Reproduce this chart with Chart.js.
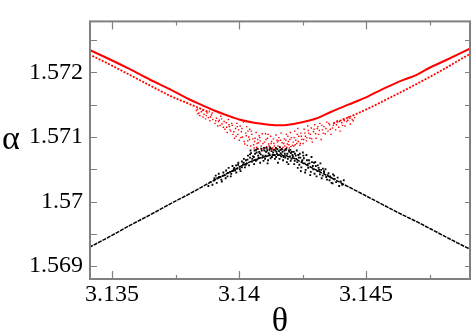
<!DOCTYPE html>
<html>
<head>
<meta charset="utf-8">
<script src="https://cdn.jsdelivr.net/npm/chart.js@4/dist/chart.umd.min.js"></script>
<style>
html,body{margin:0;padding:0;background:#fff;}
#wrap{width:474px;height:334px;}
</style>
</head>
<body>
<div id="wrap"><canvas id="c" width="474" height="334"></canvas></div>
<script>
// ---- axis ticks ----
const xMajorTicks = [3.135, 3.14, 3.145];
const xTickLabels = ["3.135", "3.14", "3.145"];
const xMinorTicks = [3.1375, 3.1425, 3.1475];
const yMajorTicks = [1.569, 1.57, 1.571, 1.572];
const yTickLabels = ["1.569", "1.57", "1.571", "1.572"];
const yMinorTicks = [1.5695, 1.5705, 1.5715, 1.5725];
const xTitle = "θ";
const yTitle = "α";

// ---- red upper curve (solid) ----
const redCurveX = [3.1341,3.13492,3.1357,3.13648,3.13727,3.13766,3.13805,3.13856,3.13902,3.13949,3.14,3.14059,3.14117,3.14168,3.14215,3.14273,3.14313,3.14363,3.1443,3.14508,3.14559,3.14625,3.14703,3.14754,3.1482,3.1491];
const redCurveY = [1.57235,1.5722,1.57205,1.57189,1.57174,1.57166,1.57158,1.57149,1.57141,1.57134,1.57127,1.57122,1.57119,1.57118,1.5712,1.57125,1.5713,1.57139,1.5715,1.57163,1.57173,1.57185,1.57197,1.57208,1.5722,1.57237];

// ---- red scattered band, arms ----
const redLeftArmX = [3.1341,3.13492,3.1357,3.13648,3.13727,3.13805,3.13883];
const redLeftArmY = [1.57228,1.57212,1.57196,1.5718,1.57164,1.57151,1.57138];
const redRightArmX = [3.1437,3.1441,3.14508,3.14605,3.14703,3.14801,3.1491];
const redRightArmY = [1.57121,1.57127,1.57144,1.57163,1.57183,1.57204,1.57229];

// ---- red cloud near the crossing ----
const redCloudX = [
3.13832,3.13838,3.13845,3.13851,3.13858,3.13836,3.13862,
3.13868,3.13874,3.13879,3.13885,3.13891,3.13897,3.13883,
3.13905,3.13911,3.13916,3.13922,3.13928,3.13933,3.13938,3.13919,
3.13944,3.13949,3.13953,3.13958,3.13962,3.13967,3.13971,3.13976,3.1396,
3.13982,3.13986,3.13991,3.13995,3.14001,3.14004,3.14009,3.14013,3.14017,3.13998,
3.14022,3.14026,3.1403,3.14034,3.14038,3.14042,3.14046,3.1405,3.14054,3.14035,
3.14059,3.14063,3.14067,3.14071,3.14075,3.14079,3.14083,3.14087,3.14091,3.14073,
3.14096,3.141,3.14104,3.14108,3.14112,3.14116,3.1412,3.14124,3.14128,3.14132,3.14114,
3.14137,3.14141,3.14145,3.14149,3.14153,3.14157,3.14161,3.14165,3.14169,3.14173,3.14155,
3.14178,3.14182,3.14186,3.1419,3.14194,3.14198,3.14202,3.14206,3.1421,3.14192,
3.14215,3.14219,3.14223,3.14227,3.14231,3.14235,3.14239,3.14243,3.14247,
3.14252,3.14256,3.14261,3.14265,3.1427,3.14274,3.14279,3.14284,3.14288,
3.14293,3.14298,3.14303,3.14308,3.14313,3.14318,3.14323,3.14328,
3.14334,3.14339,3.14345,3.1435,3.14356,3.14362,3.14368,
3.14374,3.1438,3.14386,3.14392,3.14398,3.14404,
3.1441,3.14417,3.14424,3.14431,3.14438,3.14445,
3.13842,3.13856,3.13871,3.13887,3.13894,3.13908,3.13925,3.13931,3.13941,3.13951,
3.13964,3.13973,3.13979,3.13988,3.13993,3.14007,3.14011,3.1402,3.14028,3.14032,
3.14041,3.14048,3.14057,3.14061,3.14069,3.14076,3.14081,3.14089,3.14094,3.14102,
3.14106,3.14111,3.14118,3.14126,3.1413,3.14135,3.14139,3.14147,3.14151,3.14159,
3.14163,3.14167,3.14176,3.1418,3.14184,3.14188,3.14196,3.142,3.14204,3.14213,
3.14217,3.14221,3.14229,3.14233,3.14241,3.14245,3.14254,3.14259,3.14267,3.14272,
3.14281,3.14286,3.14295,3.14301,3.1431,3.14316,3.14326,3.14331,3.14342,3.14353,
3.14359,3.14371,3.14383,3.14395,3.14407,3.14414,3.14428,3.14436,3.14449,3.14455];
const redCloudY = [
1.57141,1.57136,1.57133,1.57139,1.57131,1.57143,1.57135,
1.57128,1.57137,1.5713,1.57125,1.57134,1.57127,1.5714,
1.57121,1.57129,1.57117,1.57126,1.57132,1.5712,1.57115,1.57124,
1.57112,1.57122,1.57107,1.57127,1.57116,1.57109,1.57121,1.57104,1.57119,
1.57098,1.57113,1.57121,1.57104,1.57095,1.57117,1.57108,1.571,1.57123,1.57111,
1.57089,1.57106,1.57116,1.57094,1.571,1.57112,1.57086,1.57104,1.57097,1.57109,
1.57083,1.57098,1.57107,1.5709,1.57081,1.57102,1.57094,1.57086,1.57105,1.57096,
1.5708,1.57092,1.57105,1.57085,1.57098,1.57089,1.57079,1.57101,1.57093,1.57083,1.57104,
1.5709,1.57081,1.57103,1.57095,1.57086,1.57099,1.5708,1.57106,1.57091,1.57084,1.57094,
1.57097,1.57082,1.57104,1.57089,1.57093,1.57083,1.57107,1.57099,1.57087,1.57101,
1.57086,1.57109,1.57095,1.5709,1.57113,1.57101,1.57087,1.57106,1.57096,
1.5709,1.57112,1.57101,1.57094,1.57117,1.57106,1.57098,1.57114,1.57092,
1.57108,1.57119,1.57098,1.57113,1.57104,1.57121,1.57096,1.57111,
1.57116,1.57105,1.57123,1.57109,1.57119,1.57104,1.57114,
1.57121,1.57111,1.57125,1.57115,1.57109,1.57122,
1.57128,1.57117,1.57124,1.57131,1.5712,1.57127,
1.57137,1.57141,1.57133,1.57131,1.57137,1.57125,1.57118,1.57128,1.57124,1.57115,
1.57111,1.57118,1.57108,1.57101,1.57116,1.57099,1.57113,1.57093,1.57102,1.57087,
1.57096,1.57109,1.57088,1.57093,1.57084,1.57091,1.57099,1.57082,1.5709,1.57083,
1.57096,1.57081,1.57086,1.5709,1.57081,1.57097,1.57086,1.57082,1.57092,1.57085,
1.57095,1.57082,1.5709,1.57086,1.57095,1.57084,1.57088,1.57096,1.57085,1.57092,
1.57099,1.57088,1.57104,1.57093,1.5709,1.57101,1.57096,1.57106,1.57099,1.5711,
1.57104,1.57097,1.57112,1.57105,1.57116,1.5711,1.57118,1.57106,1.57113,1.57121,
1.57112,1.57118,1.57119,1.57124,1.57118,1.57125,1.57126,1.57129,1.57125,1.5713];

// ---- black lower branch (band centre) ----
const blackLineX = [3.1341,3.13492,3.1357,3.13648,3.13727,3.13805,3.13883,3.13961,3.1402,3.14059,3.14098,3.14137,3.14176,3.14215,3.14254,3.14293,3.14352,3.1441,3.14469,3.14547,3.14625,3.14703,3.14781,3.14859,3.1491];
const blackLineY = [1.56929,1.56946,1.56963,1.56979,1.56996,1.57012,1.57029,1.57045,1.57057,1.57064,1.57069,1.57072,1.57071,1.57067,1.57059,1.57051,1.57039,1.57027,1.57015,1.56999,1.56983,1.56968,1.56952,1.56936,1.56926];

// ---- black cloud near the crossing ----
const blackCloudX = [
3.13902,3.13908,3.13914,3.1392,3.13926,3.13932,3.13938,
3.13944,3.13949,3.13954,3.13959,3.13964,3.13969,3.13974,3.13979,
3.13984,3.13988,3.13993,3.13997,3.14002,3.14006,3.14011,3.14015,3.14019,
3.14023,3.14027,3.14031,3.14035,3.14039,3.14043,3.14047,3.14051,3.14055,3.14045,
3.14059,3.14063,3.14067,3.14071,3.14075,3.14079,3.14083,3.14087,3.14091,3.14069,3.14085,
3.14096,3.141,3.14104,3.14108,3.14112,3.14116,3.1412,3.14124,3.14128,3.14132,3.14106,3.14122,
3.14137,3.14141,3.14145,3.14149,3.14153,3.14157,3.14161,3.14165,3.14169,3.14173,3.14147,3.14163,
3.14178,3.14182,3.14186,3.1419,3.14194,3.14198,3.14202,3.14206,3.1421,3.14188,3.14204,
3.14215,3.14219,3.14223,3.14227,3.14231,3.14235,3.14239,3.14243,3.14247,3.14251,
3.14255,3.1426,3.14265,3.1427,3.14275,3.1428,3.14285,3.1429,3.14295,
3.143,3.14305,3.1431,3.14315,3.1432,3.14325,3.1433,3.14335,
3.1434,3.14346,3.14352,3.14358,3.14364,3.1437,3.14376,
3.14382,3.14388,3.14394,3.144,3.14406,3.14412,
3.14043,3.14052,3.14061,3.14058,3.14066,3.14072,3.14077,3.14081,3.14089,3.14093,
3.14098,3.14102,3.14107,3.14111,3.14114,3.14119,3.14126,3.14129,3.14134,3.14139,
3.14143,3.14146,3.14151,3.14155,3.14159,3.14164,3.14167,3.14171,3.14175,3.1418,
3.14184,3.14187,3.14192,3.14196,3.142,3.14203,3.14208,3.14212,3.14217,3.1422,
3.14225,3.14229,3.14233,3.14237,3.14241,3.14245,3.14249,3.14253,3.14258,3.14262,
3.14267,3.14272,3.14277,3.14282,3.14287,3.14292,3.14297,3.14302,3.14308,3.14313,
3.14318,3.14323,3.14329,3.14334,3.14343,3.14349,3.14356,3.14362,3.14368,3.14374,
3.14026,3.14033,3.14018,3.14011,3.14003,3.13996,3.13989,3.13981,3.13975,3.13967,
3.13955,3.13947,3.13939,3.1393,3.13921,3.13912,3.13903,3.13895,3.13887,3.13879];
const blackCloudY = [
1.57033,1.5704,1.57036,1.57043,1.57038,1.57031,1.57045,
1.57041,1.57048,1.57039,1.57052,1.57046,1.57043,1.57055,1.5705,
1.57048,1.57056,1.57051,1.5706,1.57054,1.57047,1.57062,1.57057,1.57066,
1.57053,1.57064,1.57059,1.57071,1.57056,1.57068,1.57075,1.57062,1.5707,1.57079,
1.57058,1.57074,1.5708,1.57065,1.57071,1.57077,1.5706,1.57082,1.57068,1.57076,1.57073,
1.57063,1.57079,1.57071,1.57083,1.57059,1.57075,1.57081,1.57067,1.57078,1.57072,1.57077,1.57084,
1.5708,1.57066,1.57083,1.57074,1.5706,1.57078,1.57084,1.5707,1.57081,1.57064,1.57077,1.57075,
1.57079,1.57068,1.57082,1.57074,1.57058,1.57077,1.5708,1.57066,1.57072,1.57061,1.57075,
1.57077,1.57063,1.57071,1.57079,1.57052,1.57068,1.57074,1.57047,1.57062,1.57076,
1.57067,1.57045,1.57072,1.57058,1.57064,1.57041,1.57069,1.57055,1.5706,
1.57061,1.57039,1.57056,1.57049,1.57059,1.57036,1.57051,1.57045,
1.5705,1.57034,1.57044,1.57039,1.57029,1.57042,1.57035,
1.5703,1.57037,1.57024,1.57031,1.57026,1.57033,
1.57073,1.57066,1.57079,1.57069,1.57063,1.57082,1.57068,1.57075,1.57079,1.57071,
1.57083,1.57066,1.5707,1.57079,1.57064,1.57073,1.57082,1.57069,1.57076,1.57072,
1.57079,1.57069,1.57081,1.57072,1.57066,1.5708,1.57073,1.57077,1.57069,1.57074,
1.5708,1.57071,1.57066,1.57079,1.5707,1.57063,1.57077,1.5707,1.57058,1.57074,
1.57066,1.57061,1.57072,1.57057,1.57068,1.57053,1.57064,1.57071,1.57059,1.57049,
1.57064,1.57052,1.57059,1.57046,1.57061,1.5705,1.57043,1.57055,1.57047,1.57052,
1.57042,1.57049,1.5704,1.57047,1.57038,1.57041,1.57033,1.57037,1.57028,1.5704,
1.57057,1.57065,1.5706,1.57053,1.5705,1.57057,1.57045,1.57052,1.57047,1.57039,
1.57044,1.57036,1.5704,1.57034,1.57038,1.57029,1.57036,1.57026,1.5703,1.57024];

const zip = (xs, ys) => xs.map((x, i) => ({x: x, y: ys[i]}));

const SERIF = '"Liberation Serif", "Times New Roman", serif';
const AXIS_GREY = '#808080';

const frameAndTicks = {
  id: 'frameAndTicks',
  afterDraw(chart) {
    const {ctx, chartArea: a, scales: {x, y}} = chart;
    ctx.save();
    ctx.strokeStyle = AXIS_GREY;
    ctx.lineWidth = 1.2;
    ctx.beginPath();
    const vt = (v, len) => {
      const p = Math.round(x.getPixelForValue(v)) + 0.5;
      ctx.moveTo(p, a.bottom); ctx.lineTo(p, a.bottom - len);
      ctx.moveTo(p, a.top); ctx.lineTo(p, a.top + len);
    };
    const ht = (v, lenL, lenR) => {
      const p = Math.round(y.getPixelForValue(v)) + 0.5;
      ctx.moveTo(a.left, p); ctx.lineTo(a.left + lenL, p);
      ctx.moveTo(a.right, p); ctx.lineTo(a.right - lenR, p);
    };
    xMajorTicks.forEach(v => vt(v, 8));
    xMinorTicks.forEach(v => vt(v, 4));
    yMajorTicks.forEach(v => ht(v, 7, 5));
    yMinorTicks.forEach(v => ht(v, 7, 5));
    ctx.stroke();
    ctx.lineWidth = 2;
    ctx.strokeRect(a.left, a.top, a.right - a.left, a.bottom - a.top);
    // axis titles
    ctx.fillStyle = '#000';
    ctx.font = '34px ' + SERIF;
    ctx.textAlign = 'center';
    ctx.textBaseline = 'alphabetic';
    ctx.fillText(yTitle, 11, 149);
    ctx.fillText(xTitle, (a.left + a.right) / 2, 331);
    ctx.restore();
  }
};

function build() {
  new Chart(document.getElementById('c'), {
    type: 'scatter',
    data: {
      datasets: [
        {data: zip(blackLineX, blackLineY), showLine: true, borderColor: '#000', borderWidth: 1.5, borderDash: [4, 1], pointRadius: 0, cubicInterpolationMode: 'monotone'},
        {data: zip(blackCloudX, blackCloudY), backgroundColor: '#000', borderWidth: 0, pointRadius: 1.3, pointStyle: 'rect'},
        {data: zip(redCloudX, redCloudY), backgroundColor: '#ff0000', borderWidth: 0, pointRadius: 1.0, pointStyle: 'rect'},
        {data: zip(redLeftArmX, redLeftArmY), showLine: true, borderColor: '#ff0000', borderWidth: 1.8, borderDash: [2, 1.5], pointRadius: 0, cubicInterpolationMode: 'monotone'},
        {data: zip(redRightArmX, redRightArmY), showLine: true, borderColor: '#ff0000', borderWidth: 1.8, borderDash: [2, 1.5], pointRadius: 0, cubicInterpolationMode: 'monotone'},
        {data: zip(redCurveX, redCurveY), showLine: true, borderColor: '#ff0000', borderWidth: 2, pointRadius: 0, cubicInterpolationMode: 'monotone'}
      ]
    },
    options: {
      responsive: false,
      animation: false,
      events: [],
      layout: {padding: {left: 0, top: 1, right: 2, bottom: 0}},
      plugins: {legend: {display: false}, tooltip: {enabled: false}},
      scales: {
        x: {
          type: 'linear',
          min: 3.13413, max: 3.14909,
          grid: {display: false, drawTicks: false},
          border: {display: false},
          afterBuildTicks: s => { s.ticks = xMajorTicks.map(v => ({value: v})); },
          afterFit: s => { s.height = 55; },
          ticks: {
            color: '#000', padding: 1,
            font: {family: SERIF, size: 24},
            maxRotation: 0, autoSkip: false,
            callback: (v, i) => xTickLabels[i]
          }
        },
        y: {
          type: 'linear',
          min: 1.5688, max: 1.57279,
          grid: {display: false, drawTicks: false},
          border: {display: false},
          afterBuildTicks: s => { s.ticks = yMajorTicks.map(v => ({value: v})); },
          afterFit: s => { s.width = 90; },
          ticks: {
            color: '#000', padding: 7,
            font: {family: SERIF, size: 24},
            autoSkip: false,
            callback: (v, i) => yTickLabels[i]
          }
        }
      }
    },
    plugins: [frameAndTicks]
  });
}

build();
</script>
</body>
</html>
